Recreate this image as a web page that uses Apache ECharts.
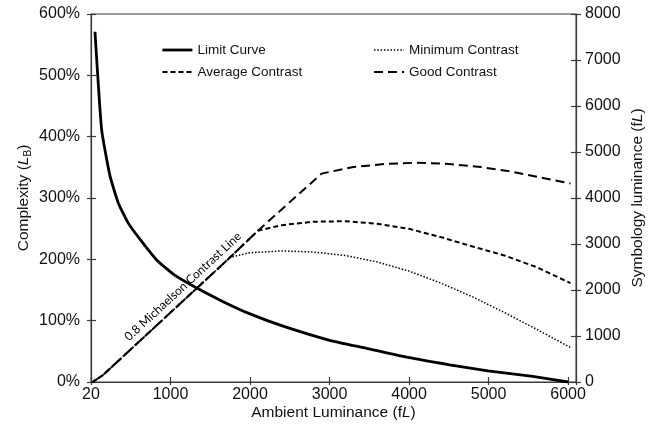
<!DOCTYPE html>
<html>
<head>
<meta charset="utf-8">
<script src="https://cdn.jsdelivr.net/npm/echarts@6/dist/echarts.min.js"></script>
<style>
html,body{margin:0;padding:0;background:#fff;}
#chart{width:659px;height:437px;}
</style>
</head>
<body>
<div id="chart"></div>
<script>
// ---- data ----
const xTickLabels = ['20', '1000', '2000', '3000', '4000', '5000', '6000'];
const yLeftTickLabels = ['0%', '100%', '200%', '300%', '400%', '500%', '600%'];
const yRightTickLabels = ['0', '1000', '2000', '3000', '4000', '5000', '6000', '7000', '8000'];

// Limit Curve: [ambient luminance, complexity %]
const limitCurve = [
  [50, 571], [134, 411], [239, 336], [343, 292], [469, 259], [620, 232],
  [825, 199], [1034, 176], [1319, 154], [1662, 131], [2000, 111], [2416, 91],
  [3000, 68], [3463, 55], [3987, 40], [4510, 28], [4991, 18], [5557, 9], [6000, 0]
];
// Contrast curves: [ambient luminance, symbology luminance fL]
const minimumContrast = [
  [20, 0], [150, 150], [1000, 1510], [1750, 2710], [2000, 2810], [2400, 2850],
  [2800, 2825], [3200, 2750], [3600, 2610], [4000, 2410], [4400, 2150],
  [4800, 1850], [5200, 1510], [5600, 1150], [6030, 750]
];
const averageContrast = [
  [20, 0], [150, 150], [1000, 1510], [1750, 2710], [2100, 3290], [2400, 3410],
  [2800, 3485], [3200, 3495], [3600, 3440], [4000, 3330], [4400, 3150],
  [4800, 2945], [5200, 2750], [5600, 2500], [6030, 2150]
];
const goodContrast = [
  [20, 0], [150, 150], [1000, 1510], [1750, 2710], [2100, 3290], [2900, 4530],
  [3300, 4675], [3700, 4740], [4100, 4768], [4500, 4740], [4900, 4672],
  [5300, 4570], [5700, 4430], [6030, 4315]
];
const michaelsonLabel = '0.8 Michaelson Contrast Line';
const michaelsonAnchor = [1250, 1900];   // point on the contrast line (data coords)
const michaelsonRef = [2900, 4530];      // second point to get the line direction

// ---- chart ----
const FONT = '"Liberation Sans", Arial, sans-serif';
const TXT = '#111';
const AX = '#3a3a3a';
const chart = echarts.init(document.getElementById('chart'), null, {renderer: 'canvas'});

function xFmt(v) { return (v % 1000 === 0 && v <= 6000) ? xTickLabels[v / 1000] : ''; }
function yLFmt(v) { return yLeftTickLabels[Math.round(v / 100)] || ''; }
function yRFmt(v) { return yRightTickLabels[Math.round(v / 1000)] || ''; }

const nameRich = {
  i: {fontStyle: 'italic', fontSize: 15.5, fontFamily: FONT, color: TXT},
  sub: {fontSize: 10, fontFamily: FONT, color: TXT, padding: [9, 0, 0, 0]}
};
const legendCommon = {
  orient: 'vertical', top: 42, padding: 0,
  itemWidth: 30, itemHeight: 16, itemGap: 6,
  itemStyle: {opacity: 0},
  lineStyle: {width: 'inherit'},
  textStyle: {fontSize: 13.5, color: TXT, fontFamily: FONT, lineHeight: 16}
};

const option = {
  animation: false,
  backgroundColor: '#fff',
  textStyle: {fontFamily: FONT, color: TXT},
  grid: {
    left: 91, right: 83, top: 14, bottom: 55,
    show: true, borderColor: AX, borderWidth: 1, backgroundColor: 'transparent',
    outerBoundsMode: 'none', containLabel: false
  },
  legend: [
    Object.assign({}, legendCommon, {left: 161, data: ['Limit Curve', 'Average Contrast']}),
    Object.assign({}, legendCommon, {left: 373, data: ['Minimum Contrast', 'Good Contrast']})
  ],
  xAxis: [
    {
      type: 'value', min: 0, max: 6100, interval: 1000, position: 'bottom',
      name: 'Ambient Luminance (f{i|L})', nameLocation: 'middle', nameGap: 23,
      nameMoveOverlap: false,
      nameTextStyle: {fontSize: 15.5, color: TXT, fontFamily: FONT, rich: nameRich},
      axisLine: {show: true, onZero: false, lineStyle: {color: AX, width: 1.2}},
      axisTick: {show: true, inside: false, length: 3, lineStyle: {color: AX, width: 1.2}},
      axisLabel: {formatter: xFmt, fontSize: 16, color: TXT, margin: 5, fontFamily: FONT,
                  showMaxLabel: true, hideOverlap: false},
      splitLine: {show: false}
    },
    {
      type: 'value', min: 0, max: 6100, interval: 1000, position: 'bottom',
      axisLine: {show: false, onZero: false},
      axisTick: {show: true, inside: true, length: 5, lineStyle: {color: AX, width: 1.2}},
      axisLabel: {show: false}, splitLine: {show: false}
    }
  ],
  yAxis: [
    {
      type: 'value', min: 0, max: 600, interval: 100, position: 'left',
      name: 'Complexity ({i|L}{sub|B})', nameLocation: 'middle', nameGap: 58, nameRotate: 90,
      nameMoveOverlap: false,
      nameTextStyle: {fontSize: 15.5, color: TXT, fontFamily: FONT, rich: nameRich},
      axisLine: {show: true, onZero: false, lineStyle: {color: AX, width: 1.2}},
      axisTick: {show: true, inside: false, length: 4, lineStyle: {color: AX, width: 1.2}},
      axisLabel: {formatter: yLFmt, fontSize: 16, color: TXT, margin: 11, fontFamily: FONT},
      splitLine: {show: false}
    },
    {
      type: 'value', min: 0, max: 8000, interval: 1000, position: 'right',
      name: 'Symbology luminance (f{i|L})', nameLocation: 'middle', nameGap: 54, nameRotate: 90,
      nameMoveOverlap: false,
      nameTextStyle: {fontSize: 15.5, color: TXT, fontFamily: FONT, rich: nameRich},
      axisLine: {show: true, onZero: false, lineStyle: {color: AX, width: 1.2}},
      axisTick: {show: true, inside: false, length: 5, lineStyle: {color: AX, width: 1.2}},
      axisLabel: {formatter: yRFmt, fontSize: 16, color: TXT, margin: 9, fontFamily: FONT},
      splitLine: {show: false}
    },
    {
      type: 'value', min: 0, max: 600, interval: 100, position: 'left',
      axisLine: {show: false, onZero: false},
      axisTick: {show: true, inside: true, length: 5, lineStyle: {color: AX, width: 1.2}},
      axisLabel: {show: false}, splitLine: {show: false}
    },
    {
      type: 'value', min: 0, max: 8000, interval: 1000, position: 'right',
      axisLine: {show: false, onZero: false},
      axisTick: {show: true, inside: true, length: 5, lineStyle: {color: AX, width: 1.2}},
      axisLabel: {show: false}, splitLine: {show: false}
    }
  ],
  series: [
    {
      name: 'Limit Curve', type: 'line', xAxisIndex: 0, yAxisIndex: 0,
      data: limitCurve, symbol: 'none', showSymbol: false, smooth: 0.15, z: 5,
      lineStyle: {color: '#000', width: 2.8, type: 'solid'}, itemStyle: {color: '#000'}
    },
    {
      name: 'Average Contrast', type: 'line', xAxisIndex: 0, yAxisIndex: 1,
      data: averageContrast, symbol: 'none', showSymbol: false, smooth: false, z: 3,
      lineStyle: {color: '#000', width: 2, type: [5, 3]}, itemStyle: {color: '#000'}
    },
    {
      name: 'Minimum Contrast', type: 'line', xAxisIndex: 0, yAxisIndex: 1,
      data: minimumContrast, symbol: 'none', showSymbol: false, smooth: false, z: 3,
      lineStyle: {color: '#000', width: 1.5, type: [1.5, 1.8]}, itemStyle: {color: '#000'}
    },
    {
      name: 'Good Contrast', type: 'line', xAxisIndex: 0, yAxisIndex: 1,
      data: goodContrast, symbol: 'none', showSymbol: false, smooth: false, z: 3,
      lineStyle: {color: '#000', width: 2, type: [9, 5]}, itemStyle: {color: '#000'}
    }
  ]
};
chart.setOption(option);

// Rotated label along the contrast line, placed via the chart's own scales
const pA = chart.convertToPixel({xAxisIndex: 0, yAxisIndex: 1}, michaelsonAnchor);
const pB = chart.convertToPixel({xAxisIndex: 0, yAxisIndex: 1}, michaelsonRef);
const ang = Math.atan2(pA[1] - pB[1], pB[0] - pA[0]);
const off = 11;
const cx = pA[0] - Math.sin(ang) * off;
const cy = pA[1] - Math.cos(ang) * off;
chart.setOption({
  graphic: [{
    type: 'text', x: cx, y: cy, rotation: ang, z: 10,
    style: {
      text: michaelsonLabel, fill: '#000', font: '12px Lato, "Open Sans", sans-serif',
      align: 'center', verticalAlign: 'middle'
    }
  }]
});
</script>
</body>
</html>
